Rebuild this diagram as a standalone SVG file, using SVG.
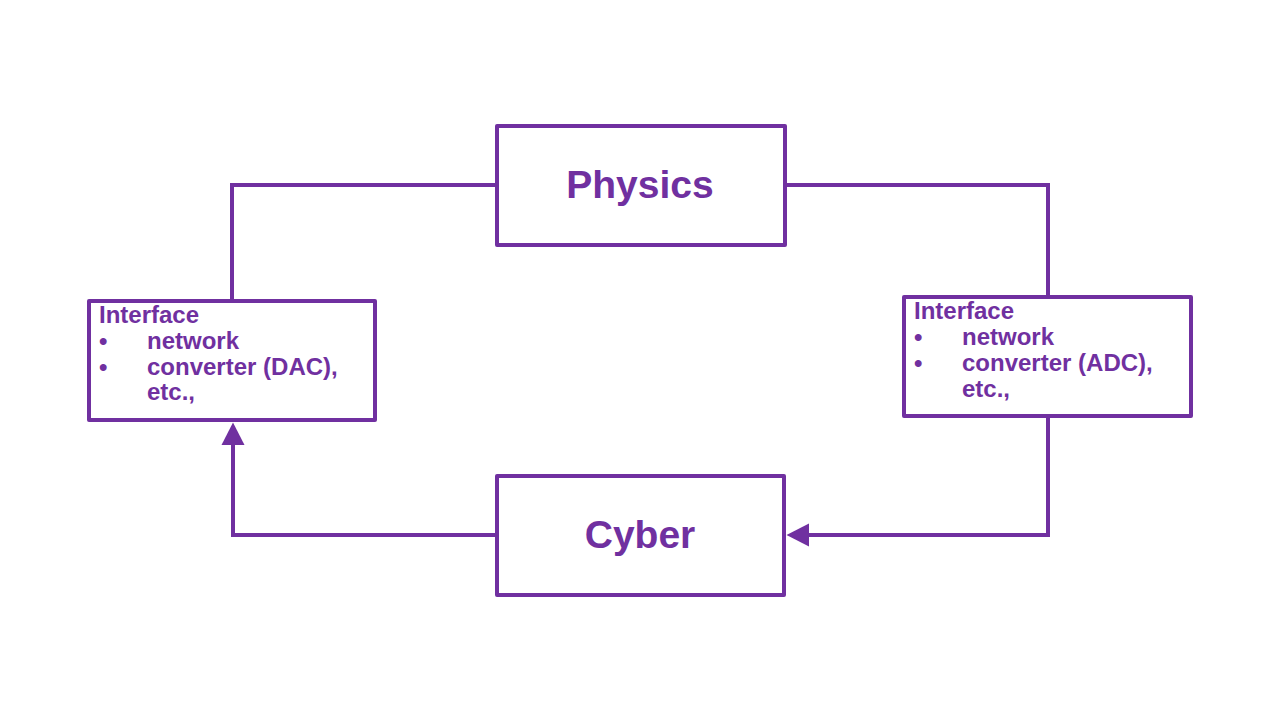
<svg xmlns="http://www.w3.org/2000/svg" width="1280" height="720" viewBox="0 0 1280 720">
<style>
.box{fill:#fff;stroke:#7030A0;stroke-width:4;stroke-linejoin:round}
.conn{fill:none;stroke:#7030A0;stroke-width:4;stroke-linejoin:miter}
.title{font-family:"Liberation Sans",Arial,sans-serif;font-weight:bold;font-size:39px;fill:#7030A0}
.small{font-family:"Liberation Sans",Arial,sans-serif;font-weight:bold;font-size:24px;fill:#7030A0}
</style>
<defs>
<marker id="arrow" markerUnits="userSpaceOnUse" markerWidth="23" markerHeight="24" viewBox="0 0 23 24" refX="0" refY="12" orient="auto">
<path d="M0,0.5 L22.5,12 L0,23.5 z" fill="#7030A0"/>
</marker>
</defs>
<rect width="1280" height="720" fill="#fff"/>
<g id="connectors">
<path class="conn" d="M495,185 H232 V299"/>
<path class="conn" d="M787,185 H1048 V295"/>
<path class="conn" d="M1048,418 V535 H809" marker-end="url(#arrow)"/>
<path class="conn" d="M495,535 H233 V445" marker-end="url(#arrow)"/>
</g>
<g id="physics">
<rect class="box" x="497" y="126" width="288" height="119"/>
<text class="title" x="640" y="198" text-anchor="middle">Physics</text>
</g>
<g id="cyber">
<rect class="box" x="497" y="476" width="287" height="119"/>
<text class="title" x="640" y="548" text-anchor="middle">Cyber</text>
</g>
<g id="interface-left">
<rect class="box" x="89" y="301" width="286" height="119"/>
<text class="small" x="99" y="323">Interface</text>
<text class="small" x="99" y="349">•</text>
<text class="small" x="147" y="349">network</text>
<text class="small" x="99" y="375">•</text>
<text class="small" x="147" y="375">converter (DAC),</text>
<text class="small" x="147" y="400">etc.,</text>
</g>
<g id="interface-right">
<rect class="box" x="904" y="297" width="287" height="119"/>
<text class="small" x="914" y="319">Interface</text>
<text class="small" x="914" y="345">•</text>
<text class="small" x="962" y="345">network</text>
<text class="small" x="914" y="371">•</text>
<text class="small" x="962" y="371">converter (ADC),</text>
<text class="small" x="962" y="397">etc.,</text>
</g>
</svg>
